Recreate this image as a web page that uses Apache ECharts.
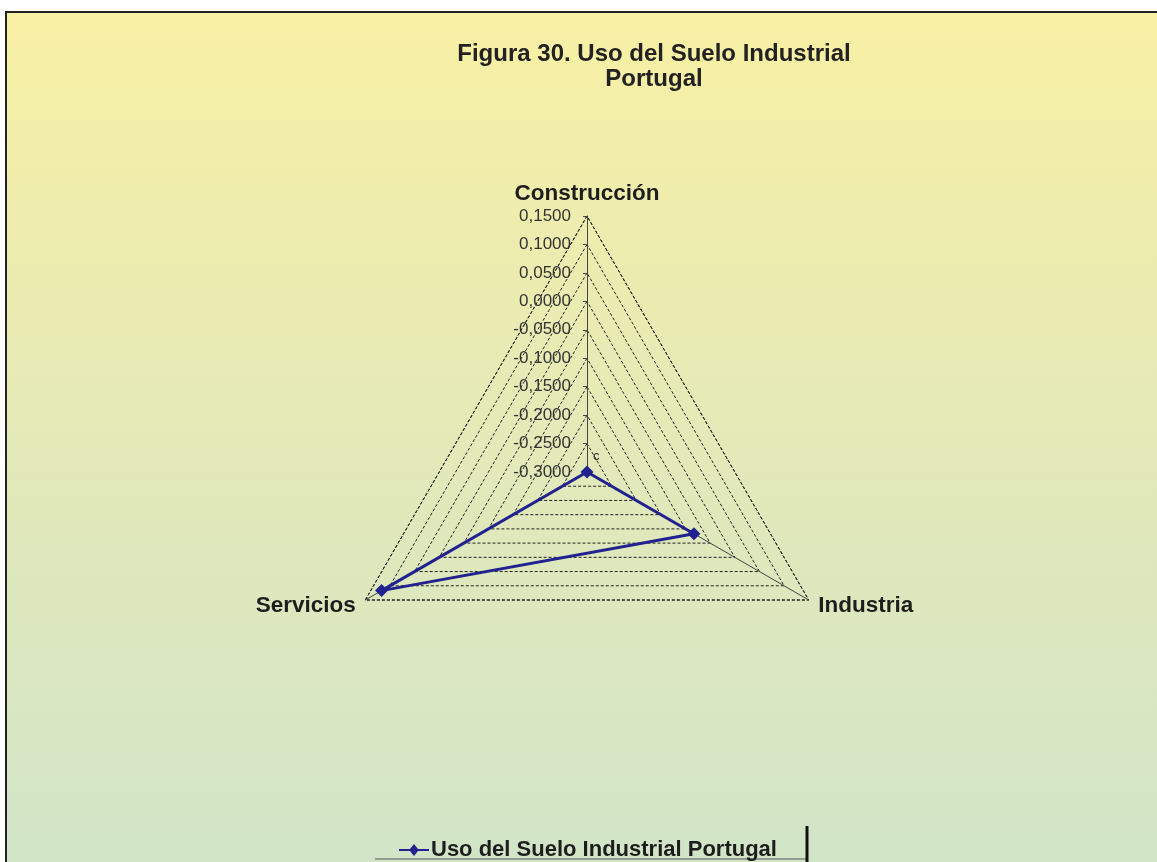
<!DOCTYPE html>
<html>
<head>
<meta charset="utf-8">
<script src="https://cdn.jsdelivr.net/npm/echarts@6/dist/echarts.min.js"></script>
<style>
  html, body { margin: 0; padding: 0; background: #ffffff; }
  #main { width: 1157px; height: 862px; }
</style>
</head>
<body>
<div id="main"></div>
<script>
// categories (ECharts radar goes counter-clockwise from the top)
const categories = ["Construcción", "Servicios", "Industria"];
// series values
const seriesName = "Uso del Suelo Industrial Portugal";
const seriesValues = [-0.30, 0.117, -0.083];
// axis scale
const axisMin = -0.30;
const axisMax = 0.15;
const axisSplits = 9;

let chart = echarts.init(document.getElementById("main"));

let option = {
  animation: false,
  textStyle: { fontFamily: "Arial" },
  // fondo con degradado y marco
  graphic: [
    {
      type: "rect",
      z: -10,
      shape: { x: 6, y: 12, width: 1200, height: 900 },
      style: {
        fill: new echarts.graphic.LinearGradient(0, 0, 0, 1, [
          { offset: 0, color: "#f8f0a4" },
          { offset: 0.5, color: "#e3e9b9" },
          { offset: 1, color: "#cfe4c9" }
        ]),
        stroke: "#222",
        lineWidth: 2
      }
    },
    {
      type: "text",
      left: 593,
      top: 450,
      style: { text: "c", fontSize: 13, fill: "#333", fontFamily: "Arial" }
    },
    // marco de la leyenda (cortado)
    {
      type: "line",
      shape: { x1: 375, y1: 859, x2: 806, y2: 859 },
      style: { stroke: "#555", lineWidth: 1 }
    },
    {
      type: "line",
      shape: { x1: 807, y1: 826, x2: 807, y2: 862 },
      style: { stroke: "#111", lineWidth: 3 }
    }
  ],
  title: {
    text: "Figura 30. Uso del Suelo Industrial\nPortugal",
    left: 649,
    top: 37,
    textAlign: "center",
    textStyle: {
      fontFamily: "Arial",
      fontSize: 24,
      fontWeight: "bold",
      color: "#222",
      lineHeight: 25
    }
  },
  legend: {
    data: [{
      name: seriesName,
      icon: "path://M0,5 L11,5 L15,0 L19,5 L30,5 L30,7 L19,7 L15,12 L11,7 L0,7 Z"
    }],
    left: 394,
    top: 834,
    itemWidth: 30,
    itemHeight: 12,
    itemGap: 4,
    textStyle: { fontFamily: "Arial", fontSize: 22, fontWeight: "bold", color: "#1d1d1d", padding: [0, 0, 0, -3] }
  },
  radar: {
    center: [587, 472],
    radius: 256,
    startAngle: 90,
    shape: "polygon",
    splitNumber: axisSplits,
    indicator: categories.map((name, i) => ({
      name: name,
      min: axisMin,
      max: axisMax,
      axisLabel: { show: i === 0 },
      axisTick: { show: i === 0 }
    })),
    axisName: {
      fontFamily: "Arial",
      color: "#1d1d1d",
      fontSize: 22.5,
      fontWeight: "bold"
    },
    nameGap: 11,
    axisLine: { lineStyle: { color: "#444", width: 1 } },
    axisTick: { length: 4, lineStyle: { color: "#444" } },
    axisLabel: {
      show: false,
      fontFamily: "Arial",
      fontSize: 17,
      margin: 16,
      color: "#333",
      formatter: v => (Math.abs(v) < 1e-9 ? 0 : v).toFixed(4).replace(".", ",")
    },
    splitLine: { lineStyle: { color: "#222", width: 1, type: [3, 2] } },
    splitArea: { show: false }
  },
  series: [
    {
      name: seriesName,
      type: "radar",
      symbol: "diamond",
      symbolSize: 13,
      lineStyle: { color: "#21218f", width: 3 },
      itemStyle: { color: "#21218f" },
      data: [{ value: seriesValues, name: seriesName }]
    }
  ]
};

chart.setOption(option);
</script>
</body>
</html>
